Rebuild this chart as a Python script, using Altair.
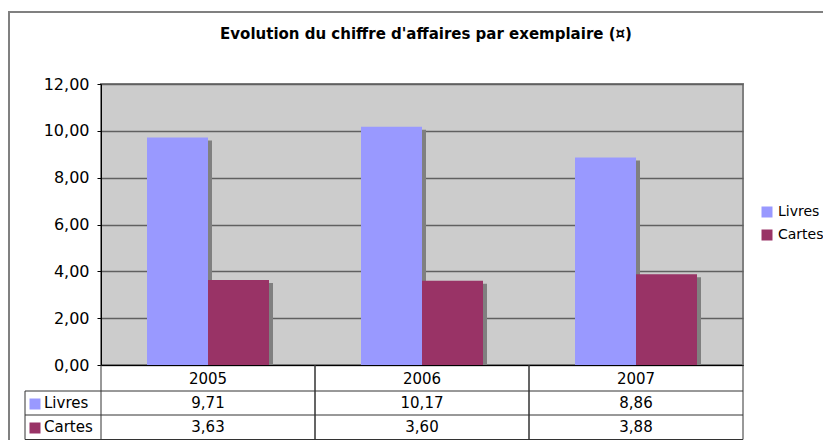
import altair as alt
import pandas as pd

years = ["2005", "2006", "2007"]
series = ["Livres", "Cartes"]
livres = [9.71, 10.17, 8.86]
cartes = [3.63, 3.60, 3.88]
colors = ["#9999FF", "#993366"]
y_ticks = [0, 2, 4, 6, 8, 10, 12]
title_text = "Evolution du chiffre d'affaires par exemplaire (¤)"

rows = []
for i, yr in enumerate(years):
    rows.append({"year": yr, "series": "Livres", "value": livres[i]})
    rows.append({"year": yr, "series": "Cartes", "value": cartes[i]})
df = pd.DataFrame(rows)
year_df = pd.DataFrame({"year": years})
ser_df = pd.DataFrame({"series": series})
one = pd.DataFrame({"title": [title_text]})

FONT = "DejaVu Sans"
FS = 15
W, H = 642, 281
LINE = "#333333"

x_scale = alt.Scale(domain=years, paddingInner=0, paddingOuter=0)
y_scale = alt.Scale(domain=[0, 12])
color_scale = alt.Scale(domain=series, range=colors)

x_axis = alt.Axis(title=None, ticks=False, domainColor="#000000", domainWidth=1,
                  labelFont=FONT, labelFontSize=FS, labelColor="#000000",
                  labelPadding=13, labelBaseline="middle", labelAngle=0, grid=False)
y_axis = alt.Axis(title=None, values=y_ticks,
                  labelExpr="replace(format(datum.value, '.2f'), '.', ',')",
                  tickSize=4, tickColor="#000000", domainColor="#000000",
                  labelFont=FONT, labelFontSize=16, labelColor="#000000",
                  labelPadding=8, grid=True, gridColor="#606060", gridWidth=1.5)

X = alt.X("year:N", scale=x_scale, axis=x_axis)
Y = alt.Y("value:Q", scale=y_scale, axis=y_axis)

shadow = alt.Chart(df).mark_bar(color="#808080", yOffset=3, clip=True).encode(
    x=X,
    xOffset=alt.XOffset("series:N", scale=alt.Scale(domain=series, range=[4, W / 3 + 4],
                                                    paddingInner=0, paddingOuter=0.754)),
    y=Y,
)

bars = alt.Chart(df).mark_bar().encode(
    x=X,
    xOffset=alt.XOffset("series:N", scale=alt.Scale(domain=series, range=[0, W / 3],
                                                    paddingInner=0, paddingOuter=0.754)),
    y=Y,
    color=alt.Color("series:N", scale=color_scale,
                    legend=alt.Legend(title=None, orient="none", legendX=659, legendY=121,
                                      symbolType="square", symbolSize=121, symbolStrokeWidth=0,
                                      labelFont=FONT, labelFontSize=14, labelColor="#000000",
                                      labelOffset=4, rowPadding=9, padding=0)),
)

# table grid
row_lines = [307, 331, 355.5]
hlines = [alt.Chart(one).mark_rule(color=LINE, strokeWidth=1).encode(
    x=alt.value(-76), x2=alt.value(W), y=alt.value(v)) for v in row_lines]
vleft = alt.Chart(one).mark_rule(color=LINE, strokeWidth=1).encode(
    x=alt.value(-76), y=alt.value(307), y2=alt.value(355.5))
vcols0 = alt.Chart(year_df).mark_rule(color=LINE, strokeWidth=1).encode(
    x=alt.X("year:N", scale=x_scale, axis=x_axis, bandPosition=0),
    y=alt.value(281), y2=alt.value(355.5))
vcols1 = alt.Chart(year_df).mark_rule(color=LINE, strokeWidth=1).encode(
    x=alt.X("year:N", scale=x_scale, axis=x_axis, bandPosition=1),
    y=alt.value(281), y2=alt.value(355.5))

row_y = {"Livres": 319, "Cartes": 343}
table_layers = []
for s in series:
    table_layers.append(
        alt.Chart(df).transform_filter(alt.datum.series == s).transform_calculate(
            label="replace(format(datum.value, '.2f'), '.', ',')"
        ).mark_text(font=FONT, fontSize=FS, color="#000000", baseline="middle", align="center").encode(
            x=X, y=alt.value(row_y[s]), text="label:N")
    )
    table_layers.append(
        alt.Chart(ser_df).transform_filter(alt.datum.series == s).mark_point(
            shape="square", filled=True, size=121, opacity=1, strokeWidth=0).encode(
            x=alt.value(-66), y=alt.value(row_y[s] + 1),
            color=alt.Color("series:N", scale=color_scale, legend=None))
    )
    table_layers.append(
        alt.Chart(ser_df).transform_filter(alt.datum.series == s).mark_text(
            font=FONT, fontSize=FS, color="#000000", baseline="middle", align="left").encode(
            x=alt.value(-57), y=alt.value(row_y[s]), text="series:N")
    )

outer = alt.Chart(one).mark_rect(fillOpacity=0, stroke="#808080", strokeWidth=2).encode(
    x=alt.value(-92), y=alt.value(-72), x2=alt.value(W + 200), y2=alt.value(H + 200))

title = alt.Chart(one).mark_text(font=FONT, fontSize=15, fontWeight="bold", color="#000000",
                                 align="center", baseline="middle").encode(
    x=alt.value(325), y=alt.value(-50), text="title:N")

chart = alt.layer(outer, title, shadow, bars, *hlines, vleft, vcols0, vcols1, *table_layers).resolve_scale(
    xOffset="independent"
).properties(
    width=W, height=H,
    padding={"left": 93, "top": 76, "right": 80, "bottom": 75},
    autosize=alt.AutoSizeParams(type="none"),
).configure(
    background="#FFFFFF"
).configure_view(
    fill="#CCCCCC", stroke="#808080", strokeWidth=2
)

chart.save("out.html", embed_options={"renderer": "svg", "actions": False})
